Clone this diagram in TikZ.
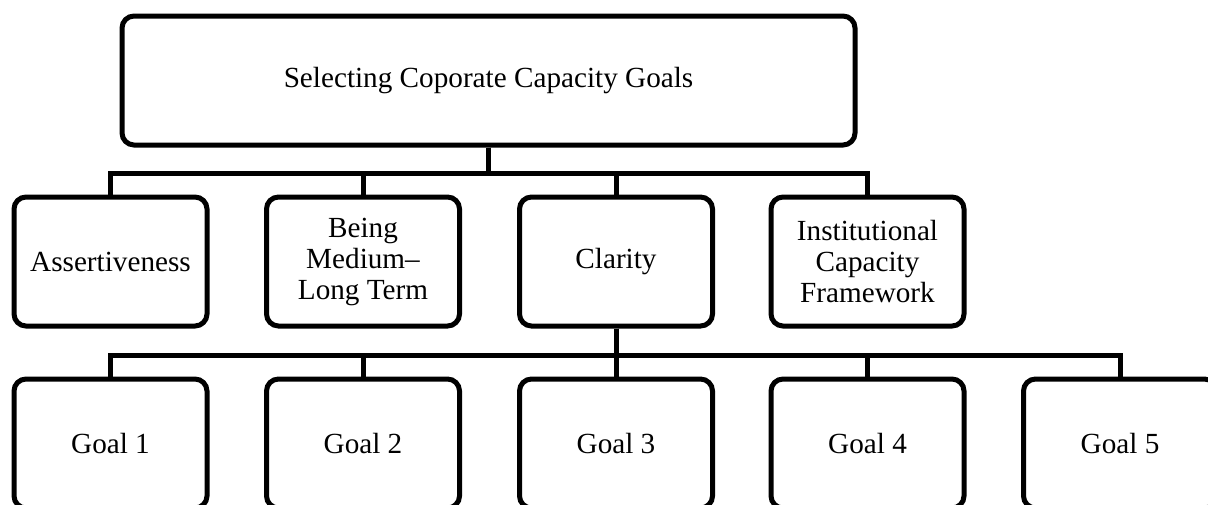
\documentclass[tikz,border=0pt]{standalone}
\usepackage{fontspec}
\setmainfont{Liberation Serif}
\usetikzlibrary{positioning, calc}

\tikzset{
  mainbox/.style={draw, line width=2.5pt, rounded corners=6pt, align=center,
    minimum width=366.5pt, minimum height=64.5pt, inner sep=0pt,
    font=\fontsize{14.6}{15.5}\selectfont},
  goalbox/.style={draw, line width=2.5pt, rounded corners=6pt, align=center,
    minimum width=96.5pt, minimum height=64.5pt, inner sep=0pt,
    font=\fontsize{14.6}{15.5}\selectfont},
  link/.style={line width=2.5pt}
}

\begin{document}
\begin{tikzpicture}[x=0.5pt, y=-0.5pt]
\useasboundingbox (0,0) rectangle (1208,504);

\node (top) at (488.5, 80.5) [mainbox] {Selecting Coporate Capacity Goals};

\node (assert) at (110.5, 261.5) [goalbox] {Assertiveness};
\node (medium) at (363, 261.5) [goalbox] {Being\\Medium–\\Long Term};
\node (clarity) at (616, 261.5) [goalbox] {Clarity};
\node (frame) at (867.5, 261.5) [goalbox] {Institutional\\Capacity\\Framework};

\node (g1) at (110.5, 443.5) [goalbox] {Goal 1};
\node (g2) at (363, 443.5) [goalbox] {Goal 2};
\node (g3) at (616, 443.5) [goalbox] {Goal 3};
\node (g4) at (867.5, 443.5) [goalbox] {Goal 4};
\node (g5) at (1120, 443.5) [goalbox] {Goal 5};

% first level
\foreach \n in {assert, medium, clarity, frame}
  \draw[link] (top.south) -- ++(0,26) -| (\n.north);

% second level
\foreach \n in {g1, g2, g3, g4, g5}
  \draw[link] (clarity.south) -- ++(0,26.5) -| (\n.north);
\end{tikzpicture}
\end{document}
